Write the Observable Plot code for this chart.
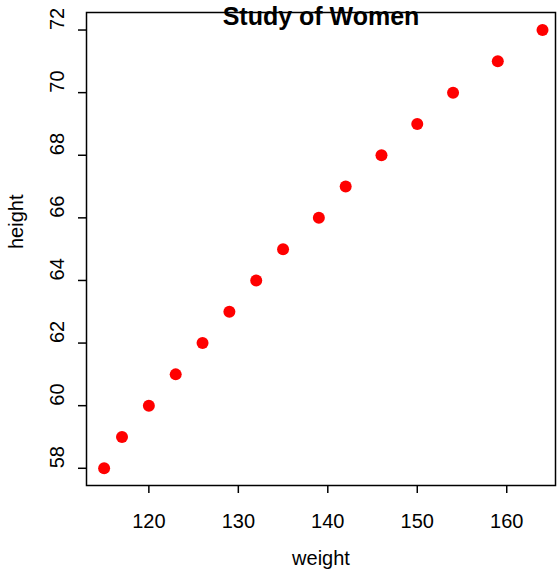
<!DOCTYPE html>
<html>
<head>
<meta charset="utf-8">
<script src="https://cdn.jsdelivr.net/npm/d3@7"></script>
<script src="https://cdn.jsdelivr.net/npm/@observablehq/plot@0.6"></script>
<style>
  html, body { margin: 0; padding: 0; background: #fff; }
  svg { display: block; }
</style>
</head>
<body>
<div id="chart"></div>
<script>
const weight = [115, 117, 120, 123, 126, 129, 132, 135, 139, 142, 146, 150, 154, 159, 164];
const height = [58, 59, 60, 61, 62, 63, 64, 65, 66, 67, 68, 69, 70, 71, 72];
const xTicks = [120, 130, 140, 150, 160];
const yTicks = [58, 60, 62, 64, 66, 68, 70, 72];
const title = "Study of Women";
const xLabel = "weight";
const yLabel = "height";

const data = weight.map((w, i) => ({weight: w, height: height[i]}));
const font = "Liberation Sans, Arial, Helvetica, sans-serif";

const chart = Plot.plot({
  width: 559,
  height: 582,
  marginLeft: 86,
  marginRight: 4,
  marginTop: 12,
  marginBottom: 97,
  style: {fontFamily: font, background: "#fff", color: "#000", overflow: "visible"},
  x: {domain: [113.03, 165.45], axis: null},
  y: {domain: [57.45, 72.56], axis: null},
  marks: [
    Plot.frame({stroke: "#000", strokeWidth: 1.5}),
    Plot.axisX({ticks: xTicks, tickSize: 8, tickFormat: () => "", label: null, stroke: "#000", strokeWidth: 1.5}),
    Plot.axisY({ticks: yTicks, tickSize: 8, tickFormat: () => "", label: null, stroke: "#000", strokeWidth: 1.5}),
    Plot.text(xTicks, {x: d => d, text: d => String(d), frameAnchor: "bottom", dy: 42, fontSize: 20, fill: "#000"}),
    Plot.text(yTicks, {y: d => d, text: d => String(d), frameAnchor: "left", dx: -29, rotate: -90, fontSize: 20, fill: "#000"}),
    Plot.text([xLabel], {text: d => d, frameAnchor: "bottom", dy: 79, fontSize: 20, fill: "#000"}),
    Plot.text([yLabel], {text: d => d, frameAnchor: "left", dx: -70, rotate: -90, fontSize: 20, fill: "#000"}),
    Plot.dot(data, {x: "weight", y: "height", r: 6, fill: "#ff0000", stroke: "none"}),
    Plot.text([title], {text: d => d, frameAnchor: "top", dy: -5, fontSize: 25, fontWeight: "bold", fill: "#000"})
  ]
});
document.getElementById("chart").appendChild(chart);
</script>
</body>
</html>
